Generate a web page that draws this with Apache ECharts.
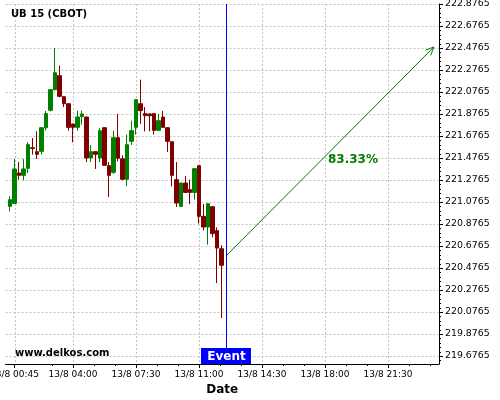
<!DOCTYPE html>
<html><head><meta charset="utf-8">
<script src="https://cdn.jsdelivr.net/npm/echarts@6/dist/echarts.min.js"></script>
<style>html,body{margin:0;padding:0;background:#fff}#c{width:500px;height:400px}</style>
</head><body><div id="c"></div>
<script>
const chartTitle = 'UB 15 (CBOT)';
const watermark = 'www.delkos.com';
// slot index: 0 = 13/8 00:30, one slot = 15 minutes
const slots = [0,1,2,3,4,5,6,7,8,9,10,11,12,13,14,15,16,17,18,19,20,21,22,23,24,25,26,27,28,29,30,31,32,33,34,35,36,37,38,39,40,41,42,43,44,45,46,47];
const opens = [221.037,221.064,221.340,221.319,221.383,221.570,221.534,221.537,221.752,221.910,222.098,222.225,222.034,221.970,221.786,221.755,221.852,221.849,221.477,221.534,221.477,221.752,221.407,221.346,221.661,221.470,221.283,221.628,221.755,221.970,221.880,221.877,221.880,221.728,221.849,221.752,221.625,221.280,221.037,221.249,221.189,221.164,221.407,220.946,220.849,221.034,220.816,220.652];
const closes = [221.098,221.377,221.319,221.377,221.598,221.564,221.510,221.752,221.880,222.098,222.252,222.037,221.970,221.755,221.755,221.849,221.877,221.477,221.534,221.510,221.725,221.410,221.319,221.661,221.474,221.283,221.598,221.725,222.007,221.907,221.861,221.861,221.728,221.816,221.755,221.628,221.319,221.067,221.249,221.164,221.164,221.380,220.946,220.849,221.061,220.789,220.658,220.501];
const lows = [220.992,221.060,221.280,221.274,221.340,221.507,221.467,221.507,221.725,221.901,222.090,222.028,221.940,221.725,221.619,221.725,221.780,221.440,221.440,221.377,221.440,221.407,221.122,221.334,221.446,221.274,221.219,221.595,221.689,221.786,221.719,221.719,221.689,221.725,221.752,221.531,221.219,221.031,221.034,221.161,221.058,221.098,220.880,220.819,220.689,220.755,220.340,220.022];
const highs = [221.128,221.467,221.440,221.467,221.622,221.658,221.719,221.755,221.904,222.101,222.477,222.316,222.037,221.973,221.789,221.907,221.907,221.852,221.595,221.537,221.749,221.755,221.440,221.725,221.877,221.501,221.689,221.816,222.010,222.189,221.940,221.880,221.883,221.877,221.904,221.755,221.628,221.440,221.252,221.313,221.280,221.383,221.410,221.058,221.064,221.037,220.846,220.683];

const xTickSlots = [1,14,28,42,56,70,84];
const xTickLabels = ['13/8 00:45','13/8 04:00','13/8 07:30','13/8 11:00','13/8 14:30','13/8 18:00','13/8 21:30'];
const yTickValues = [219.6765,219.8765,220.0765,220.2765,220.4765,220.6765,220.8765,221.0765,221.2765,221.4765,221.6765,221.8765,222.0765,222.2765,222.4765,222.6765,222.8765];

const eventSlot = 48;
const eventLabel = 'Event';
const arrowFrom = [48, 220.586];
const arrowTo = [94.2, 222.486];
const probabilityText = '83.33%';

const xMin = -1, xMax = 95.33, yMin = 219.604, yMax = 222.8765;

// minor ticks: x every 70 min (3 per label step), y every 0.04
const xMinor = [];
for (let k = -1; k <= 20; k++) { const v = 14 + k * 14 / 3; if (v >= xMin && v <= xMax) xMinor.push(+v.toFixed(4)); }
const yMinor = [];
for (let k = -1; k <= 80; k++) { const v = 219.6765 + k * 0.04; if (v >= yMin && v <= yMax + 1e-6) yMinor.push(+v.toFixed(4)); }

const candles = slots.map((s, i) => [s, opens[i], closes[i], lows[i], highs[i]]);
// grid lines at the labelled ticks: [value, 0 = vertical, 1 = horizontal]
const gridRows = xTickSlots.map(v => [v, 0]).concat(yTickValues.map(v => [v, 1]));
const minorRows = xMinor.map(v => [v, 0]).concat(yMinor.map(v => [v, 1]));

const FONT = '"DejaVu Sans", sans-serif';
const GREEN = '#008000', RED = '#800000', BLUE = '#0000ff';

const chart = echarts.init(document.getElementById('c'), null, { renderer: 'canvas' });
chart.setOption({
  animation: false,
  backgroundColor: '#fff',
  textStyle: { fontFamily: FONT },
  grid: { left: 5.5, right: 61, top: 4, bottom: 36, outerBoundsMode: 'none' },
  graphic: [
    { type: 'text', left: 11, top: 9, style: { text: chartTitle, font: 'bold 10px ' + FONT, fill: '#000' }, z: 10 },
    { type: 'text', left: 15, top: 348, style: { text: watermark, font: 'bold 10px ' + FONT, fill: '#000' }, z: 10 }
  ],
  xAxis: [{
    type: 'value', min: xMin, max: xMax, position: 'bottom',
    axisLine: { show: true, onZero: false, lineStyle: { color: '#000', width: 1 } },
    axisTick: { show: true, customValues: xTickSlots, length: 4, lineStyle: { color: '#000' } },
    axisLabel: { show: true, customValues: xTickSlots, color: '#000', fontSize: 9, fontFamily: FONT, margin: 6,
      formatter: v => xTickLabels[xTickSlots.indexOf(v)] || '' },
    splitLine: { show: false },
    name: 'Date', nameLocation: 'middle', nameGap: 20,
    nameTextStyle: { color: '#000', fontWeight: 'bold', fontSize: 12, fontFamily: FONT }
  }],
  yAxis: [{
    type: 'value', min: yMin, max: yMax, position: 'right',
    axisLine: { show: true, onZero: false, lineStyle: { color: '#000', width: 1 } },
    axisTick: { show: true, customValues: yTickValues, length: 4, lineStyle: { color: '#000' } },
    axisLabel: { show: true, customValues: yTickValues, color: '#000', fontSize: 9.4, fontFamily: FONT, margin: 6,
      formatter: v => v.toFixed(4) },
    splitLine: { show: false }
  }],
  series: [{
    type: 'custom',
    silent: true, clip: false, z: 1,
    data: gridRows,
    encode: { x: 0 },
    renderItem: (params, api) => {
      const v = api.value(0), kind = api.value(1);
      let x1, y1, x2, y2;
      if (kind === 0) {
        const a = api.coord([v, yMax]), b = api.coord([v, yMin]);
        x1 = x2 = Math.round(a[0]) + 0.5; y1 = a[1]; y2 = b[1];
      } else {
        const a = api.coord([xMin, v]), b = api.coord([xMax, v]);
        y1 = y2 = Math.round(a[1]) + 0.5; x1 = a[0]; x2 = b[0];
      }
      return { type: 'line', shape: { x1, y1, x2, y2 }, style: { stroke: '#c4c4c4', lineWidth: 1, lineDash: [2, 2] } };
    }
  }, {
    type: 'custom',
    silent: true, clip: false, z: 1,
    data: minorRows,
    encode: { x: 0 },
    renderItem: (params, api) => {
      const v = api.value(0), kind = api.value(1);
      if (kind === 0) {
        const b = api.coord([v, yMin]); const x = Math.round(b[0]) + 0.5;
        return { type: 'line', shape: { x1: x, y1: b[1], x2: x, y2: b[1] + 2 }, style: { stroke: '#000', lineWidth: 1 } };
      }
      const b = api.coord([xMax, v]); const y = Math.round(b[1]) + 0.5;
      return { type: 'line', shape: { x1: b[0], y1: y, x2: b[0] + 2, y2: y }, style: { stroke: '#000', lineWidth: 1 } };
    }
  }, {
    type: 'candlestick',
    z: 2,
    data: candles,
    encode: { x: 0, y: [1, 2, 3, 4] },
    barWidth: 4,
    itemStyle: { color: GREEN, color0: RED, borderColor: GREEN, borderColor0: RED, borderWidth: 1 },
    silent: true
  }, {
    type: 'custom',
    silent: true, clip: false, z: 5,
    data: [[arrowFrom[0], arrowFrom[1], arrowTo[0], arrowTo[1]]],
    encode: { x: [0, 2], y: [1, 3] },
    renderItem: (params, api) => {
      const p1 = api.coord([api.value(0), api.value(1)]);
      const p2 = api.coord([api.value(2), api.value(3)]);
      const ang = Math.atan2(p2[1] - p1[1], p2[0] - p1[0]);
      const L = 9, a = 0.42;
      const h1 = [p2[0] - L * Math.cos(ang - a), p2[1] - L * Math.sin(ang - a)];
      const h2 = [p2[0] - L * Math.cos(ang + a), p2[1] - L * Math.sin(ang + a)];
      const mid = [(p1[0] + p2[0]) / 2, (p1[1] + p2[1]) / 2];
      return { type: 'group', children: [
        { type: 'line', shape: { x1: p1[0], y1: p1[1], x2: p2[0], y2: p2[1] }, style: { stroke: GREEN, lineWidth: 1 } },
        { type: 'polyline', shape: { points: [h1, p2, h2] }, style: { stroke: GREEN, fill: null, lineWidth: 1 } },
        { type: 'text', x: mid[0] + 23, y: mid[1] + 8.5, style: { text: probabilityText, fill: GREEN, font: 'bold 12px ' + FONT, align: 'center', verticalAlign: 'middle' } }
      ] };
    }
  }, {
    type: 'custom',
    silent: true, clip: false, z: 6,
    data: [[eventSlot]],
    encode: { x: 0 },
    renderItem: (params, api) => {
      const top = api.coord([api.value(0), yMax]);
      const bot = api.coord([api.value(0), yMin]);
      const x = Math.round(top[0]) + 0.5;
      return { type: 'group', children: [
        { type: 'line', shape: { x1: x, y1: top[1], x2: x, y2: bot[1] }, style: { stroke: BLUE, lineWidth: 1 } },
        { type: 'rect', shape: { x: x - 25.5, y: bot[1] - 16, width: 50, height: 16 }, style: { fill: BLUE } },
        { type: 'text', x: x, y: bot[1] - 7.5, style: { text: eventLabel, fill: '#fff', font: 'bold 12px ' + FONT, align: 'center', verticalAlign: 'middle' } }
      ] };
    }
  }]
});
</script>
</body></html>
